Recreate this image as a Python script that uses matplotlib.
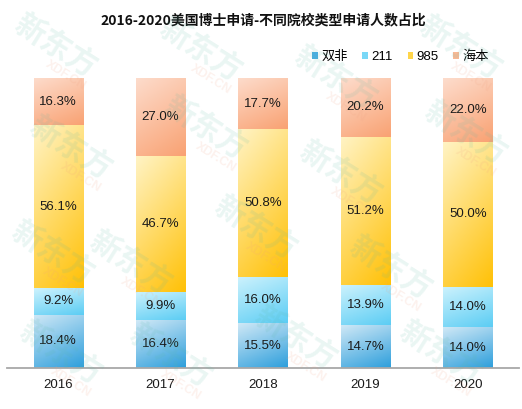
"""2016-2020 US PhD applications by undergraduate school type, stacked 100% bars."""

import matplotlib

matplotlib.use("Agg")
import matplotlib.pyplot as plt  # noqa: E402
import numpy as np  # noqa: E402
from matplotlib.colors import LinearSegmentedColormap  # noqa: E402
from matplotlib.patches import Patch  # noqa: E402

plt.rcParams["font.family"] = ["Liberation Sans", "Noto Sans CJK SC"]

years = ["2016", "2017", "2018", "2019", "2020"]
series_names = ["双非", "211", "985", "海本"]
shuangfei = [18.4, 16.4, 15.5, 14.7, 14.0]
s211 = [9.2, 9.9, 16.0, 13.9, 14.0]
s985 = [56.1, 46.7, 50.8, 51.2, 50.0]
haiben = [16.3, 27.0, 17.7, 20.2, 22.0]
series_values = [shuangfei, s211, s985, haiben]

# light (top-left) -> saturated (bottom-right)
gradients = [
    ("#cfe8f6", "#2e9fdc"),
    ("#cdf2fd", "#5ccdf4"),
    ("#fff3c4", "#ffc107"),
    ("#fddccc", "#f9a273"),
]
legend_colors = ["#4aaee0", "#7ad8f7", "#ffd54a", "#fbb894"]

# watermark anchors in pixel coordinates (decoration only)
watermark_px = [
    (25, 8), (170, 12), (305, 40), (430, 10),
    (40, 110), (175, 90), (310, 135), (435, 95),
    (22, 215), (100, 225), (225, 190), (360, 230),
    (30, 315), (140, 318), (265, 300), (410, 315),
]


def gradient_fill(ax, bar, c0, c1):
    x0, y0 = bar.get_x(), bar.get_y()
    w, h = bar.get_width(), bar.get_height()
    yy, xx = np.mgrid[0:1:80j, 0:1:40j]
    t = 0.7 * yy + 0.3 * xx
    cmap = LinearSegmentedColormap.from_list("g", [c0, c1])
    im = ax.imshow(
        t,
        extent=(x0, x0 + w, y0, y0 + h),
        origin="upper",
        cmap=cmap,
        vmin=0,
        vmax=1,
        aspect="auto",
        interpolation="bilinear",
        zorder=2,
    )
    im.set_clip_path(bar)


fig = plt.figure(figsize=(5.22, 4.09), dpi=100)
ax = fig.add_axes([7 / 522, 41 / 409, 512 / 522, 290 / 409])

x = np.arange(len(years))
bottom = np.zeros(len(years))
for values, (c0, c1) in zip(series_values, gradients):
    bars = ax.bar(x, values, width=0.48, bottom=bottom, color="none", linewidth=0, zorder=2)
    for bar in bars:
        gradient_fill(ax, bar, c0, c1)
    for xi, b, v in zip(x, bottom, values):
        ax.text(xi, b + v / 2, f"{v:.1f}%", ha="center", va="center",
                fontsize=9.5, color="#1a1a1a", zorder=4)
    bottom += np.array(values)

ax.set_xlim(-0.5, 4.5)
ax.set_ylim(0, 100)
ax.set_xticks(x)
ax.set_xticklabels(years, fontsize=9.5, color="#1a1a1a")
ax.tick_params(axis="x", length=0, pad=8)
ax.set_yticks([])
for side in ("left", "right", "top"):
    ax.spines[side].set_visible(False)
ax.spines["bottom"].set_color("#a8a8a8")
ax.spines["bottom"].set_linewidth(1.3)
ax.spines["bottom"].set_zorder(3)

handles = [Patch(facecolor=c, edgecolor="none") for c in legend_colors]
ax.legend(
    handles,
    series_names,
    loc="center right",
    bbox_to_anchor=(0.937, 0.861),
    bbox_transform=fig.transFigure,
    ncol=4,
    frameon=False,
    fontsize=9.5,
    handlelength=0.45,
    handleheight=0.45,
    handletextpad=0.25,
    columnspacing=1.1,
    borderpad=0,
    borderaxespad=0,
)

fig.text(0.504, 1 - 20 / 409, "2016-2020美国博士申请-不同院校类型申请人数占比",
         ha="center", va="center", fontsize=10, fontweight="bold",
         family=["Noto Sans CJK SC"], color="#111111")

for px, py in watermark_px:
    fig.text(px / 522, 1 - py / 409, "新东方", rotation=-32, fontsize=22,
             fontweight="bold", family=["Noto Sans CJK SC"], color="#5cb8a6",
             alpha=0.13, ha="left", va="top", rotation_mode="anchor", zorder=10)
    fig.text((px + 25) / 522, 1 - (py + 50) / 409, "XDF.CN", rotation=-32,
             fontsize=9, fontweight="bold", color="#f0a080", alpha=0.14,
             ha="left", va="top", rotation_mode="anchor", zorder=10)

fig.savefig("out.png", dpi=100)
